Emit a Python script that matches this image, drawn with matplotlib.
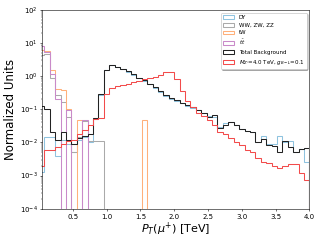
import numpy as np
import matplotlib
matplotlib.use("Agg")
import matplotlib.pyplot as plt

# bins de 0.08 TeV entre 0 y 4 TeV
edges = np.arange(0, 51) * 0.08
centers = 0.5 * (edges[1:] + edges[:-1])

dy = [0.0013, 0.015, 0.015, 0.004, 0.012, 0.009, 0.005, 0.012, 0.015, 0.01,
      0.05, 0.27, 1.5, 2.1, 1.85, 1.6, 1.35, 1.1, 0.88, 0.72,
      0.58, 0.45, 0.34, 0.25, 0.21, 0.18, 0.15, 0.13, 0.11, 0.092,
      0.075, 0.062, 0.06, 0.03, 0.038, 0.042, 0.033, 0.026, 0.022, 0.02,
      0.0105, 0.016, 0.009, 0.009, 0.016, 0.0105, 0.011, 0.005, 0.0062, 0.0026]

diboson = [4.5, 4.8, 0.85, 0.27, 0.17, 0.06, 0.005, 0.015, 0.045, 0.011,
           0.011, 0.011] + [0] * 38

tw = [6.0, 5.8, 1.5, 0.42, 0.37, 0.1, 0, 0.046, 0, 0,
      0, 0, 0, 0, 0, 0, 0, 0, 0, 0.046] + [0] * 30

ttbar = [8.0, 5.5, 1.2, 0.2, 0, 0.095, 0, 0, 0.047] + [0] * 41

total = [0.126, 0.1, 0.02, 0.012, 0.02, 0.012, 0.009, 0.014, 0.016, 0.018,
         0.055, 0.28, 1.5, 2.15, 1.9, 1.6, 1.4, 1.15, 0.9, 0.75,
         0.6, 0.46, 0.35, 0.27, 0.22, 0.19, 0.16, 0.135, 0.115, 0.095,
         0.077, 0.06, 0.066, 0.027, 0.034, 0.04, 0.033, 0.025, 0.022, 0.021,
         0.0105, 0.013, 0.0085, 0.008, 0.005, 0.011, 0.0075, 0.0053, 0.0062, 0.0066]

signal = [0.002, 0.006, 0.006, 0.0075, 0.009, 0.011, 0.012, 0.018, 0.024, 0.034,
          0.052, 0.055, 0.28, 0.45, 0.5, 0.55, 0.6, 0.65, 0.72, 0.8,
          0.88, 0.97, 1.1, 1.35, 1.3, 0.82, 0.35, 0.18, 0.115, 0.08,
          0.062, 0.047, 0.034, 0.02, 0.018, 0.0135, 0.0105, 0.0085, 0.006, 0.0052,
          0.0035, 0.0025, 0.0024, 0.002, 0.0017, 0.002, 0.0022, 0.0023, 0.0012, 0.00072]

fig, ax = plt.subplots(figsize=(6.42, 4.82), dpi=50)
fig.subplots_adjust(left=0.132, right=0.964, top=0.959, bottom=0.134)

ax.hist(centers, bins=edges, weights=dy, histtype="step", color="#8fc3df", lw=1.5, label="DY")
ax.hist(centers, bins=edges, weights=diboson, histtype="step", color="#aaaaaa", lw=1.5, label="WW, ZW, ZZ")
ax.hist(centers, bins=edges, weights=tw, histtype="step", color="#ffb07a", lw=1.5, label="tW")
ax.hist(centers, bins=edges, weights=ttbar, histtype="step", color="#c98ac9", lw=1.5, label=r"$t\bar{t}$")
ax.hist(centers, bins=edges, weights=total, histtype="step", color="#222222", lw=1.5, label="Total Background")
ax.hist(centers, bins=edges, weights=signal, histtype="step", color="#f24b4b", lw=1.5,
        label=r"$M_{Z'}$=4.0 TeV, $g_{B-L}$=0.1")

ax.set_yscale("log")
ax.set_ylim(1e-4, 1e2)
ax.set_xlim(0.05, 4.0)
ax.set_xticks([0.5, 1.0, 1.5, 2.0, 2.5, 3.0, 3.5, 4.0])
ax.tick_params(labelsize=10)
ax.set_xlabel(r"$P_T(\mu^{+})$ [TeV]", fontsize=16, labelpad=2)
ax.set_ylabel("Normalized Units", fontsize=17)
ax.legend(loc="upper right", fontsize=8, shadow=True)

fig.savefig("out.png", dpi=50)
